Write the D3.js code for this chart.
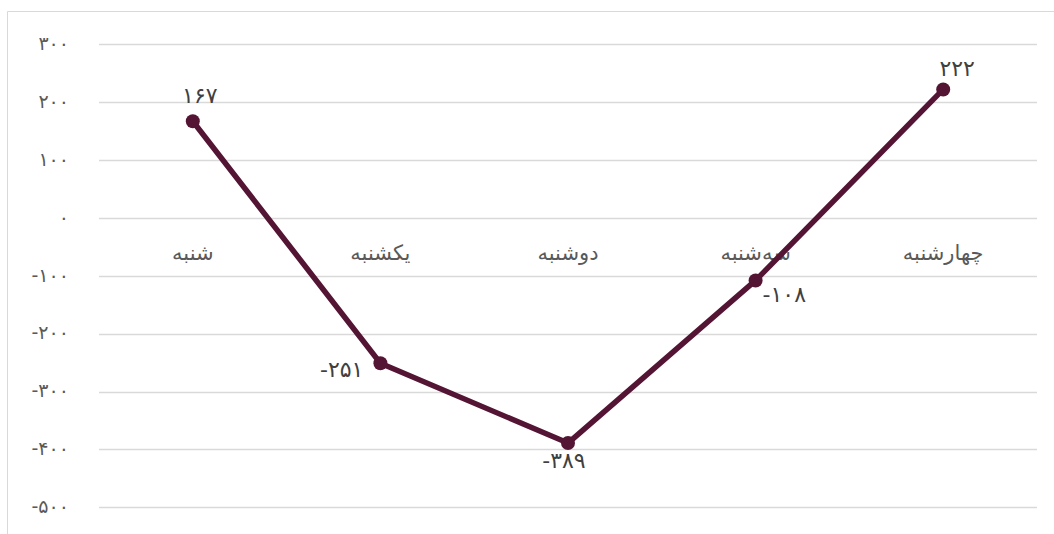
<!DOCTYPE html>
<html>
<head>
<meta charset="utf-8">
<script src="https://cdn.jsdelivr.net/npm/d3@7"></script>
<style>
  body { margin: 0; background: #fff; }
  svg { display: block; }
</style>
</head>
<body>
<svg width="1054" height="534"></svg>
<script>
const days = ["شنبه", "یکشنبه", "دوشنبه", "سه‌شنبه", "چهارشنبه"];
const values = [167, -251, -389, -108, 222];
const yTicks = [300, 200, 100, 0, -100, -200, -300, -400, -500];

const faDigits = "۰۱۲۳۴۵۶۷۸۹";
const fa = n => String(n).replace(/\d/g, d => faDigits[d]);

const svg = d3.select("svg");
const font = "'DejaVu Sans', sans-serif";

// chart frame (continues past the window on the right and bottom)
svg.append("path")
    .attr("d", "M7.5,560 V11.5 H1070")
    .attr("fill", "none")
    .attr("stroke", "#d9d9d9")
    .attr("stroke-width", 1);

const x = d3.scaleBand().domain(days).range([99, 1037]);
const y = d3.scaleLinear().domain([-500, 300]).range([507.3, 44.3]);

const g = svg.append("g").attr("font-family", font);

// gridlines
g.append("g")
    .selectAll("line")
    .data(yTicks)
    .join("line")
    .attr("x1", 99)
    .attr("x2", 1037)
    .attr("y1", d => Math.round(y(d)) + 0.5)
    .attr("y2", d => Math.round(y(d)) + 0.5)
    .attr("stroke", "#d9d9d9")
    .attr("stroke-width", 1.3);

// y tick labels
g.append("g")
    .selectAll("text")
    .data(yTicks)
    .join("text")
    .attr("x", 69)
    .attr("y", d => y(d))
    .attr("dy", "0.3em")
    .attr("text-anchor", "end")
    .attr("direction", "ltr")
    .attr("font-size", 19)
    .attr("fill", "#595959")
    .text(d => fa(d));

// category labels sit just under the zero line
g.append("g")
    .selectAll("text")
    .data(days)
    .join("text")
    .attr("x", d => x(d) + x.bandwidth() / 2)
    .attr("y", y(0) + 35)
    .attr("dy", "0.35em")
    .attr("text-anchor", "middle")
    .attr("font-size", 21)
    .attr("fill", "#595959")
    .text(d => d);

const pts = days.map((d, i) => ({day: d, v: values[i]}));
const cx = d => x(d.day) + x.bandwidth() / 2;

g.append("path")
    .datum(pts)
    .attr("fill", "none")
    .attr("stroke", "#541534")
    .attr("stroke-width", 5.5)
    .attr("stroke-linejoin", "round")
    .attr("d", d3.line().x(cx).y(d => y(d.v)));

g.append("g")
    .selectAll("circle")
    .data(pts)
    .join("circle")
    .attr("cx", cx)
    .attr("cy", d => y(d.v))
    .attr("r", 7)
    .attr("fill", "#541534");

// label placement per point: above / left / below / right-below
const place = [
    {dx: 7, dy: -26, anchor: "middle"},
    {dx: -17, dy: 6, anchor: "end"},
    {dx: -4, dy: 17, anchor: "middle"},
    {dx: 7, dy: 14, anchor: "start"},
    {dx: 14, dy: -21, anchor: "middle"}
];

g.append("g")
    .selectAll("text")
    .data(pts)
    .join("text")
    .attr("x", (d, i) => cx(d) + place[i].dx)
    .attr("y", (d, i) => y(d.v) + place[i].dy)
    .attr("dy", "0.35em")
    .attr("text-anchor", (d, i) => place[i].anchor)
    .attr("direction", "ltr")
    .attr("font-size", 22)
    .attr("fill", "#404040")
    .text(d => fa(d.v));
</script>
</body>
</html>
